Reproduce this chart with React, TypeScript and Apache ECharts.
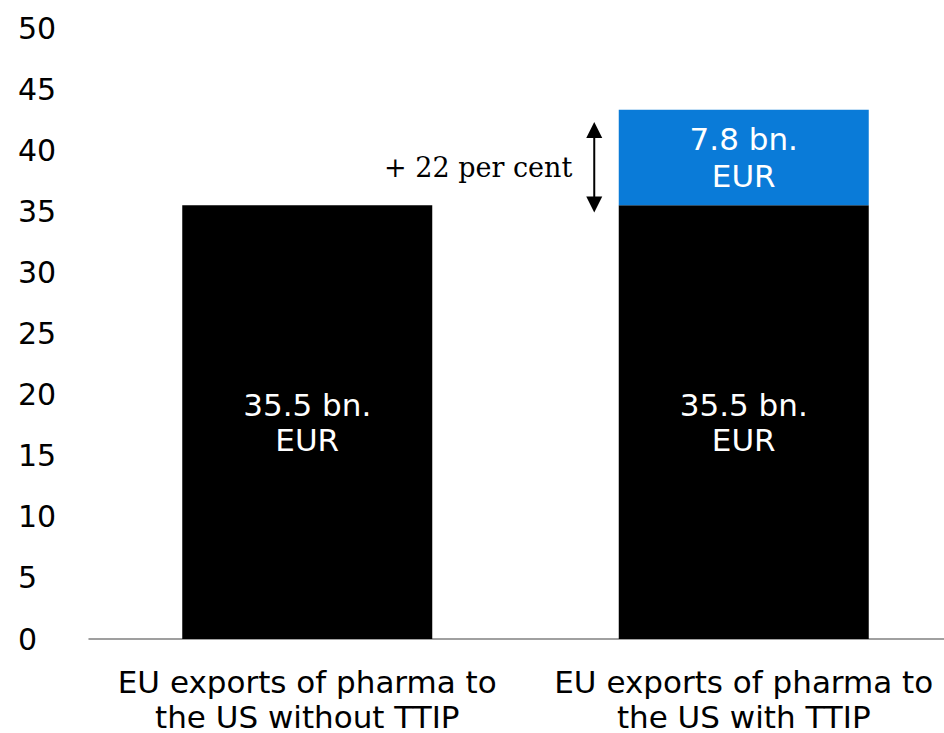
import React, { useEffect, useRef } from "react";
import * as echarts from "echarts";

const categories = ["EU exports of pharma to\nthe US without TTIP", "EU exports of pharma to\nthe US with TTIP"];
const baseValues = [35.5, 35.5];
const ttipValues = [null, 7.8];
const baseLabels = ["35.5 bn.\nEUR", "35.5 bn.\nEUR"];
const ttipLabels = ["", "7.8 bn.\nEUR"];
const increaseLabel = "+ 22 per cent";
const arrowFrom = 42.3;
const arrowTo = 34.9;

const FONT = "'DejaVu Sans', Verdana, sans-serif";

export default function App() {
  const ref = useRef<HTMLDivElement>(null);
  useEffect(() => {
    if (!ref.current) return;
    const chart = echarts.init(ref.current, null, { renderer: "svg" });
    chart.setOption({
      animation: false,
      grid: { left: 89, right: -18, top: 28, bottom: 94, containLabel: false, outerBoundsMode: "none" },
      xAxis: {
        type: "category",
        data: categories,
        axisLine: { lineStyle: { color: "#808080", width: 1.5 } },
        axisTick: { show: false },
        axisLabel: {
          color: "#000",
          fontFamily: FONT,
          fontSize: 31,
          lineHeight: 35,
          margin: 25,
          interval: 0,
          hideOverlap: false,
        },
      },
      yAxis: {
        type: "value",
        min: 0,
        max: 50,
        interval: 5,
        splitLine: { show: false },
        axisLine: { show: false },
        axisTick: { show: false },
        axisLabel: { color: "#000", fontFamily: FONT, fontSize: 30, align: "left", margin: 71 },
      },
      series: [
        {
          type: "bar",
          stack: "s",
          data: baseValues,
          barWidth: 250,
          itemStyle: { color: "#000" },
          label: {
            show: true,
            position: "inside",
            color: "#fff",
            fontFamily: FONT,
            fontSize: 31,
            lineHeight: 35,
            formatter: (p: any) => baseLabels[p.dataIndex],
          },
        },
        {
          type: "bar",
          stack: "s",
          data: ttipValues,
          barWidth: 250,
          itemStyle: { color: "#0A7BD8" },
          label: {
            show: true,
            position: "inside",
            color: "#fff",
            fontFamily: FONT,
            fontSize: 31,
            lineHeight: 37,
            formatter: (p: any) => ttipLabels[p.dataIndex],
          },
        },
      ],
    });
    const c1 = chart.convertToPixel({ xAxisIndex: 0 }, 1) as number;
    const yTop = chart.convertToPixel({ yAxisIndex: 0 }, arrowFrom) as number;
    const yBot = chart.convertToPixel({ yAxisIndex: 0 }, arrowTo) as number;
    const ax = c1 - 149.5;
    const head = 16;
    const hw = 8;
    chart.setOption({
      graphic: [
        { type: "line", shape: { x1: ax, y1: yTop + head - 2, x2: ax, y2: yBot - head + 2 }, style: { stroke: "#000", lineWidth: 2 } },
        { type: "polygon", shape: { points: [[ax, yTop], [ax - hw, yTop + head], [ax + hw, yTop + head]] }, style: { fill: "#000" } },
        { type: "polygon", shape: { points: [[ax, yBot], [ax - hw, yBot - head], [ax + hw, yBot - head]] }, style: { fill: "#000" } },
        {
          type: "text",
          x: ax - 22,
          y: (yTop + yBot) / 2,
          style: { text: increaseLabel, fill: "#000", font: "27px 'DejaVu Serif', serif", align: "right", verticalAlign: "middle" },
        },
      ],
    });
    return () => chart.dispose();
  }, []);
  return <div ref={ref} style={{ width: 944, height: 733, position: "absolute", left: 0, top: 0 }} />;
}
